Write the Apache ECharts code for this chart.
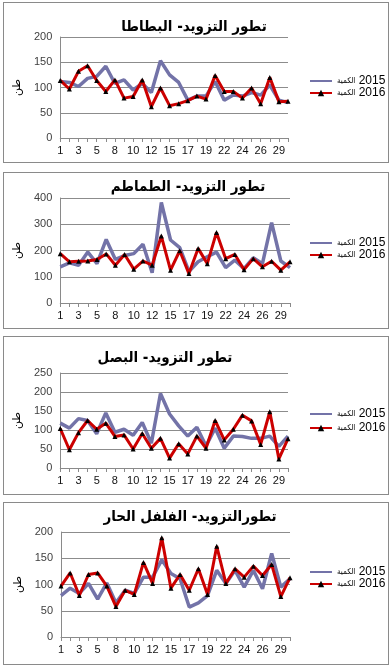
<!DOCTYPE html>
<html>
<head>
<meta charset="utf-8">
<script src="https://cdn.jsdelivr.net/npm/echarts@6/dist/echarts.min.js"></script>
<style>
html,body{margin:0;padding:0;background:#fff;width:392px;height:669px;overflow:hidden;}
.panel{position:absolute;left:3px;width:386px;box-sizing:border-box;border:1px solid #8a8a8a;background:#fff;}
.chart{position:absolute;left:0;top:0;width:384px;}
</style>
</head>
<body>
<script>
// categories (days of month)
const categories = ['1','2','3','4','5','6','8','9','10','11','12','13','15','16','17','18','19','20','22','23','24','25','26','27','29','30'];

// potatoes
const potato2015 = [112,110,102,118,122,142,108,115,95,108,90,153,125,110,75,83,83,112,75,85,83,90,85,105,75,70];
const potato2016 = [114,97,132,143,114,92,115,79,82,115,62,99,64,68,74,83,77,124,92,92,79,99,68,120,72,73];
// tomatoes
const tomato2015 = [138,153,144,194,150,242,166,181,188,224,115,383,240,211,120,157,176,194,135,163,131,172,150,306,160,135];
const tomato2016 = [188,157,159,160,166,187,144,185,129,160,144,255,125,199,112,208,150,269,169,185,127,169,138,159,125,157];
// onions
const onion2015 = [118,105,130,125,90,145,94,102,86,120,65,196,142,111,84,107,58,105,52,84,83,78,78,84,57,84];
const onion2016 = [104,48,93,125,102,118,83,87,50,91,52,78,26,64,37,84,52,125,74,102,139,124,62,148,24,77];
// hot pepper
const pepper2015 = [79,93,83,102,72,103,65,89,83,114,114,147,121,111,57,65,79,127,102,127,95,127,92,159,95,111];
const pepper2016 = [97,122,79,119,122,97,58,89,81,142,102,189,93,119,89,130,81,173,102,130,114,135,117,138,77,113];

const titles = ['تطور التزويد- البطاطا','تطور التزويد- الطماطم','تطور التزويد- البصل','تطورالتزويد- الفلفل الحار'];
const seriesNames = ['2015','2016'];
const legendWord = 'الكمية';
const yName = 'طن';
const yMax = [200,400,250,200];
const yStep = [50,100,50,50];

const panels = [
  {top:2, h:161, gl:49, gt:34, gw:235, gh:101, tx:190, ty:24, lt:72, lg:0, d:[potato2015,potato2016]},
  {top:172, h:157, gl:49, gt:25, gw:237, gh:105, tx:184, ty:14, lt:64, lg:0, d:[tomato2015,tomato2016]},
  {top:336, h:159, gl:51, gt:36, gw:233, gh:95, tx:161, ty:21, lt:71, lg:2, d:[onion2015,onion2016]},
  {top:502, h:163, gl:57, gt:29, gw:229, gh:105, tx:186, ty:14, lt:63, lg:0, d:[pepper2015,pepper2016]}
];

panels.forEach((p,i)=>{
  const wrap = document.createElement('div');
  wrap.className='panel';
  wrap.style.top = p.top+'px';
  wrap.style.height = p.h+'px';
  const c = document.createElement('div');
  c.className='chart';
  c.style.height = (p.h-2)+'px';
  wrap.appendChild(c);
  document.body.appendChild(wrap);
  const chart = echarts.init(c, null, {renderer:'canvas'});
  chart.setOption({
    animation:false,
    textStyle:{fontFamily:'Liberation Sans, Arial, sans-serif'},
    graphic:[{type:'text', x:p.tx, y:p.ty, style:{text:titles[i], fill:'#000', font:'bold 15px "DejaVu Sans Condensed", "DejaVu Sans", sans-serif', textAlign:'center', textVerticalAlign:'middle'}}],
    grid:{left:p.gl, top:p.gt, width:p.gw, height:p.gh, containLabel:false},
    legend:{
      orient:'vertical', left:305, top:p.lt, itemGap:p.lg, padding:0,
      itemWidth:22, itemHeight:8,
      data:[{name:seriesNames[0], itemStyle:{opacity:0}}, {name:seriesNames[1]}],
      formatter: n => '{a|'+legendWord+'} {b|'+n+'}',
      textStyle:{rich:{a:{fontSize:8, fontFamily:'DejaVu Sans Condensed, DejaVu Sans', color:'#000'}, b:{fontSize:12, fontFamily:'Liberation Sans, Arial', color:'#000'}}}
    },
    xAxis:{
      type:'category', data:categories, boundaryGap:false,
      axisLine:{lineStyle:{color:'#8a8a8a'}},
      axisTick:{interval:0, length:4, lineStyle:{color:'#8a8a8a'}},
      axisLabel:{interval:1, fontSize:11, color:'#111', margin:7}
    },
    yAxis:{
      type:'value', min:0, max:yMax[i], interval:yStep[i],
      name:yName, nameLocation:'middle', nameGap:33, nameRotate:90,
      nameTextStyle:{fontSize:11, color:'#000', fontFamily:'DejaVu Sans'},
      axisLine:{show:true, lineStyle:{color:'#8a8a8a'}},
      axisTick:{show:false},
      axisLabel:{fontSize:11, color:'#404040', margin:8},
      splitLine:{lineStyle:{color:'#8c8c8c', width:1}}
    },
    series:[
      {name:seriesNames[0], type:'line', data:p.d[0], symbol:'none', showSymbol:false,
       lineStyle:{color:'#7373A8', width:3.5}, itemStyle:{color:'#7373A8'}, z:2},
      {name:seriesNames[1], type:'line', data:p.d[1], symbol:'triangle', symbolSize:5,
       lineStyle:{color:'#CC0000', width:3}, itemStyle:{color:'#000'}, z:3}
    ]
  });
});
</script>
</body>
</html>
